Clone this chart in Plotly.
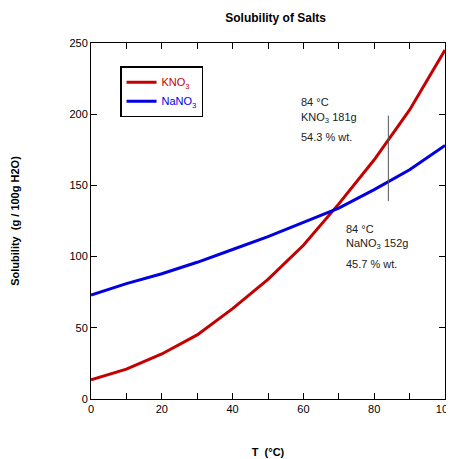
import plotly.graph_objects as go

temps = [0, 10, 20, 30, 40, 50, 60, 70, 80, 90, 100]
kno3 = [13.5, 21, 31.6, 45, 63.5, 84, 108, 137, 168, 203, 245]
nano3 = [73, 81, 88, 96, 105, 114, 124, 134, 147, 161, 178]

mark_t = 84
mark_range = [139, 199]

note_k = ["84 °C", "KNO<sub>3</sub> 181g", "54.3 % wt."]
note_n = ["84 °C", "NaNO<sub>3</sub> 152g", "45.7 % wt."]

RED = "#c40000"
BLUE = "#0000e0"
FONT = "Liberation Sans, Arial, sans-serif"

fig = go.Figure()
fig.add_trace(go.Scatter(x=temps, y=kno3, mode="lines",
                         line=dict(color=RED, width=3),
                         name=f"<span style='color:{RED}'>KNO<sub>3</sub></span>"))
fig.add_trace(go.Scatter(x=temps, y=nano3, mode="lines",
                         line=dict(color=BLUE, width=3),
                         name=f"<span style='color:{BLUE}'>NaNO<sub>3</sub></span>"))

fig.add_shape(type="line", x0=mark_t, x1=mark_t, y0=mark_range[0], y1=mark_range[1],
              line=dict(color="#555555", width=1))

for txt, yv in zip(note_k, [208.5, 197.5, 184]):
    fig.add_annotation(x=58.8, y=yv, text=txt, showarrow=False, xanchor="left",
                       yanchor="middle", font=dict(size=11, color="#222222", family=FONT))
for txt, yv in zip(note_n, [119.5, 109, 95]):
    fig.add_annotation(x=71.6, y=yv, text=txt, showarrow=False, xanchor="left",
                       yanchor="middle", font=dict(size=11, color="#222222", family=FONT))

axis_common = dict(showline=True, linecolor="black", linewidth=1, mirror="ticks",
                   ticks="inside", ticklen=6, tickcolor="black", showgrid=False,
                   zeroline=False, automargin=False, ticklabeloverflow="allow",
                   tickfont=dict(size=11, color="black", family=FONT))

fig.update_xaxes(range=[0, 100], dtick=20, tick0=0,
                 minor=dict(dtick=10, ticks="inside", ticklen=6, tickcolor="black", showgrid=False),
                 title=dict(text="<b>T  (°C)</b>", font=dict(size=11, family=FONT, color="black"), standoff=34),
                 **axis_common)
fig.update_yaxes(range=[0, 250], dtick=50, tick0=0,
                 title=dict(text="<b>Solubility  (g / 100g H2O)</b>", font=dict(size=11, family=FONT, color="black"), standoff=47),
                 **axis_common)

fig.update_layout(
    width=446, height=451,
    margin=dict(l=83, r=9, t=35, b=60),
    paper_bgcolor="white", plot_bgcolor="white",
    font=dict(family=FONT, size=11, color="black"),
    title=dict(text="<b>Solubility of Salts</b>", x=0.6, xanchor="center", y=0.978, yanchor="middle",
               font=dict(size=12, family=FONT, color="black")),
    legend=dict(x=0.082, y=0.935, xanchor="left", yanchor="top",
                bordercolor="black", borderwidth=1.5, bgcolor="white",
                font=dict(size=11, family=FONT), itemwidth=30, tracegroupgap=0),
    showlegend=True,
)

fig.write_html("out.html")
